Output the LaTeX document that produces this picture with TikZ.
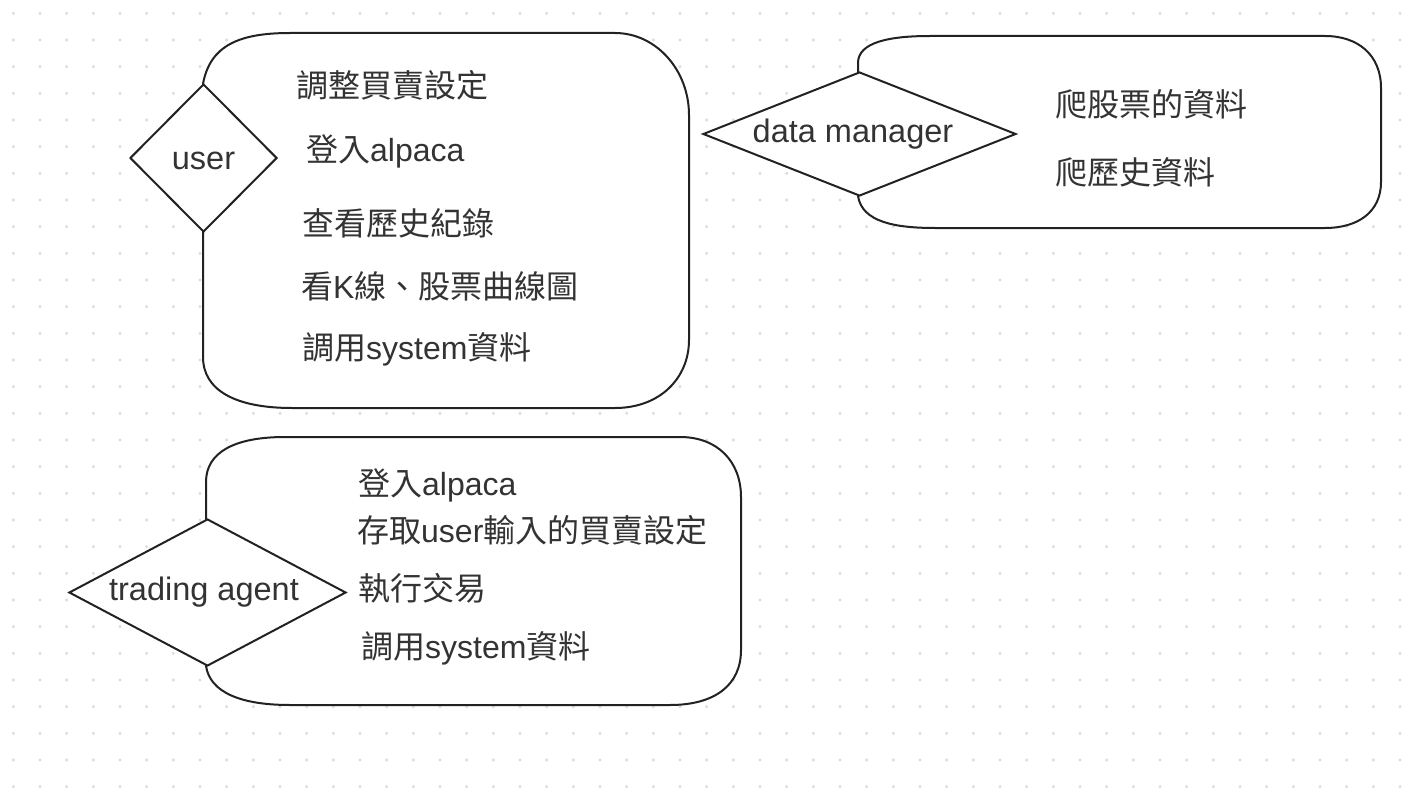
\documentclass[tikz,border=0pt]{standalone}
\usepackage{fontspec}
\setmainfont{Liberation Sans}
\newfontfamily\cjkfont{Noto Sans CJK TC}
\newcommand{\zh}[1]{{\cjkfont #1}}
\usetikzlibrary{shapes.geometric}
\definecolor{txtc}{HTML}{333333}
\definecolor{linec}{HTML}{222222}
\definecolor{dotc}{HTML}{DDDDDD}
\begin{document}
\begin{tikzpicture}[x=1pt,y=-1pt,
  outline/.style={draw=linec, line width=2pt, fill=white, line join=round},
  dia/.style={diamond, draw=linec, line width=2pt, fill=white, inner sep=0pt},
  lbl/.style={inner sep=0pt, font=\fontsize{32.5}{38}\selectfont, text=txtc},
  txt/.style={anchor=base west, inner sep=0pt, font=\fontsize{32}{38}\selectfont, text=txtc}]
\useasboundingbox (0,0) rectangle (1422,800);
\fill[white] (0,0) rectangle (1422,800);
% dot grid
\foreach \i in {0,...,52}{
  \foreach \j in {0,...,29}{
    \fill[dotc] (13.33+26.667*\i, 13.33+26.667*\j) circle[radius=1.7pt];
  }
}
% user outline
\path[outline] (203,84) .. controls (210,45) and (240,33) .. (290,33)
  -- (615,33) .. controls (656,33) and (689,70) .. (689,115)
  -- (689,340) .. controls (689,378) and (660,408) .. (615,408)
  -- (292,408) .. controls (235,408) and (203,390) .. (203,357)
  -- (203,232) -- cycle;
% data manager outline
\path[outline] (858,72) -- (858,63) .. controls (858,42) and (890,36) .. (930,36)
  -- (1325,36) .. controls (1358,36) and (1381,55) .. (1381,88)
  -- (1381,182) .. controls (1381,212) and (1358,228) .. (1325,228)
  -- (935,228) .. controls (895,228) and (862,222) .. (858,196) -- cycle;
% trading agent outline
\path[outline] (206,519) -- (206,482) .. controls (206,452) and (235,437) .. (285,437)
  -- (680,437) .. controls (718,437) and (741,462) .. (741,497)
  -- (741,650) .. controls (741,685) and (715,705) .. (670,705)
  -- (290,705) .. controls (240,705) and (210,692) .. (206,666) -- cycle;
% diamonds
\node[dia, minimum width=147pt, minimum height=148pt] (user) at (203.5,158) {};
\node[dia, minimum width=313pt, minimum height=124pt] (dm) at (859.5,134) {};
\node[dia, minimum width=277pt, minimum height=147pt] (ta) at (207.5,592.5) {};
\node[lbl] (userl) at (203.5,161) {user};
\node[lbl] (dml) at (853,134) {data manager};
\node[lbl] (tal) at (204,592) {trading agent};
% user texts
\node[txt] (u1) at (296,97) {\zh{調整買賣設定}};
\node[txt] (u2) at (306,161) {\zh{登入}alpaca};
\node[txt] (u3) at (302,235) {\zh{查看歷史紀錄}};
\node[txt] (u4) at (301,298) {\zh{看}K\zh{線、股票曲線圖}};
\node[txt] (u5) at (302,359) {\zh{調用}system\zh{資料}};
% data manager texts
\node[txt] (d1) at (1055,117) {\zh{爬股票的資料}};
\node[txt] (d2) at (1055,184) {\zh{爬歷史資料}};
% trading agent texts
\node[txt] (t1) at (358,495) {\zh{登入}alpaca};
\node[txt] (t2) at (357,542) {\zh{存取}user\zh{輸入的買賣設定}};
\node[txt] (t3) at (358,600) {\zh{執行交易}};
\node[txt] (t4) at (361,658) {\zh{調用}system\zh{資料}};
\end{tikzpicture}
\end{document}
